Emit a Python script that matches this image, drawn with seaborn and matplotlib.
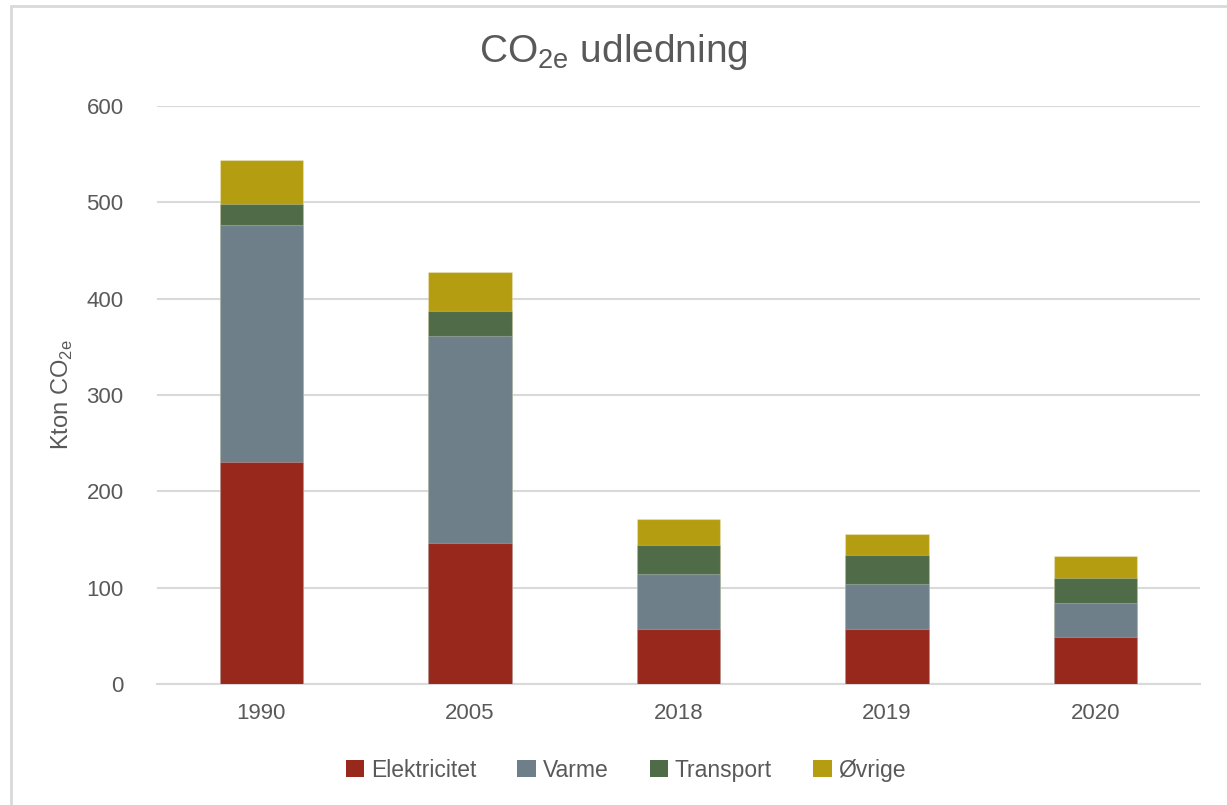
import pandas as pd
import matplotlib.pyplot as plt
import seaborn as sns
from matplotlib.patches import Patch
from matplotlib.lines import Line2D

years = ['1990', '2005', '2018', '2019', '2020']
categories = ['Elektricitet', 'Varme', 'Transport', 'Øvrige']
elektricitet = [230, 146, 57, 57, 49]
varme = [246, 215, 57, 47, 35]
transport = [22, 26, 30, 30, 26]
ovrige = [46, 41, 27, 22, 23]
colors = ['#98271C', '#6E7F8A', '#506B47', '#B59D12']

sns.set_theme(style='white')
plt.rcParams['font.family'] = ['Liberation Sans', 'DejaVu Sans']
text_color = '#595959'
grid_color = '#D9D9D9'

# long table, then cumulative sums for stacking
df = pd.DataFrame({'year': years, 'Elektricitet': elektricitet, 'Varme': varme,
                   'Transport': transport, 'Øvrige': ovrige})
cum = df[categories].cumsum(axis=1)
cum['year'] = df['year']

fig = plt.figure(figsize=(12.27, 8.05), dpi=100)
ax = fig.add_axes([157 / 1227, 1 - 684 / 805, (1200 - 157) / 1227, (684 - 106) / 805])

# draw from the top layer down so lower layers cover the upper ones
for cat, col in reversed(list(zip(categories, colors))):
    sns.barplot(data=cum, x='year', y=cat, order=years, color=col, width=0.4,
                errorbar=None, saturation=1, ax=ax, zorder=3,
                edgecolor=(1, 1, 1, 0.25), linewidth=0.8)

ax.set_ylim(0, 600)
ax.set_yticks(range(0, 601, 100))
ax.yaxis.grid(True, color=grid_color, linewidth=1.5, zorder=0)
ax.set_axisbelow(True)
for s in ['top', 'right', 'left']:
    ax.spines[s].set_visible(False)
ax.spines['bottom'].set_color(grid_color)
ax.spines['bottom'].set_linewidth(1.5)
ax.tick_params(axis='both', length=0, labelsize=16, labelcolor=text_color)
ax.tick_params(axis='y', pad=24)
ax.tick_params(axis='x', pad=14)
ax.set_xlabel('')
ax.set_ylabel(r'Kton CO$_{\mathregular{2e}}$', fontsize=17, color=text_color, labelpad=8)

fig.text(0.5, 1 - 52 / 805, r'CO$_{\mathregular{2e}}$ udledning', ha='center', va='center',
         fontsize=28, color=text_color)

handles = [Patch(facecolor=c, edgecolor='none') for c in colors]
fig.legend(handles, categories, loc='center', bbox_to_anchor=(0.51, 1 - 770 / 805), ncol=4,
           frameon=False, fontsize=16.5, labelcolor=text_color, handlelength=0.8,
           handleheight=0.8, handletextpad=0.3, columnspacing=1.8)

# outer chart border (left and top edges visible)
fig.add_artist(Line2D([10.5 / 1227, 10.5 / 1227], [0, 1 - 6 / 805], color=grid_color,
                      linewidth=2, transform=fig.transFigure))
fig.add_artist(Line2D([10.5 / 1227, 1], [1 - 6 / 805, 1 - 6 / 805], color=grid_color,
                      linewidth=2, transform=fig.transFigure))

fig.savefig('out.png', dpi=100, facecolor='white')
